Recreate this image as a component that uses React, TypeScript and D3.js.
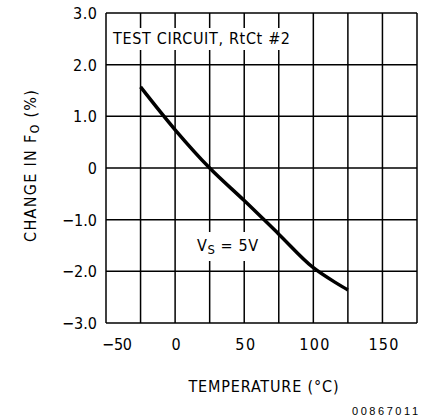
import * as d3 from 'd3';

const temps = [-25, 0, 25, 50, 75, 100, 125];
const change = [1.57, 0.74, 0.0, -0.63, -1.28, -1.93, -2.36];
const xTickLabels = [-50, 0, 50, 100, 150];
const yTickLabels = ['3.0', '2.0', '1.0', '0', '\u22121.0', '\u22122.0', '\u22123.0'];

const W = 431;
const H = 420;
const FONT = '"Liberation Sans Narrow", "DejaVu Sans Condensed", sans-serif';

// rough label widths as seen in the reference
const fitWidth = (s: string): number | undefined => {
  if (s.length < 2) return undefined;
  if (s.startsWith('\u2212')) return s.length === 4 ? 35 : 30;
  return s.length === 3 ? (s.includes('.') ? 24 : 30) : 20;
};

export default function App(): JSX.Element {
  const x = d3.scaleLinear().domain([-50, 175]).range([106, 417]);
  const y = d3.scaleLinear().domain([-3, 3]).range([323, 13]);

  const xGrid = d3.range(-50, 176, 25);
  const yGrid = d3.range(-3, 3.01, 1);

  const line = d3
    .line<number>()
    .x((_, i) => x(temps[i]))
    .y((d) => y(d))
    .curve(d3.curveCatmullRom.alpha(0.5));

  return (
    <svg
      xmlns="http://www.w3.org/2000/svg"
      width={W}
      height={H}
      style={{ position: 'absolute', left: 0, top: 0, background: '#fff' }}
      fontFamily={FONT}
    >
      <rect width={W} height={H} fill="#fff" />
      <g stroke="#000" strokeWidth={1.5}>
        {xGrid.map((t) => (
          <line key={'x' + t} x1={x(t)} x2={x(t)} y1={y(3)} y2={y(-3)} />
        ))}
        {yGrid.map((v) => (
          <line key={'y' + v} x1={x(-50)} x2={x(175)} y1={y(v)} y2={y(v)} />
        ))}
      </g>

      {/* label boxes blank out the grid behind the text */}
      <rect x={x(-50) + 1} y={28} width={190} height={22} fill="#fff" />
      <text x={113} y={44} fontSize={16} fill="#000" textLength={177} lengthAdjust="spacing">
        TEST  CIRCUIT, RtCt #2
      </text>

      <path d={line(change) ?? ''} fill="none" stroke="#000" strokeWidth={3.5} />

      <rect x={196} y={232} width={64} height={29} fill="#fff" />
      <text x={197} y={251} fontSize={16} fill="#000" textLength={61} lengthAdjust="spacing">
        V<tspan fontSize={13} dy={3}>S</tspan>
        <tspan dy={-3}> = 5V</tspan>
      </text>

      <g fontSize={16} fill="#000" textAnchor="end">
        {yTickLabels.map((l, i) => (
          <text key={l} x={97} y={y(3 - i) + 6} textLength={fitWidth(l)} lengthAdjust="spacing">
            {l}
          </text>
        ))}
      </g>
      <g fontSize={16} fill="#000" textAnchor="middle">
        {xTickLabels.map((t) => {
          const s = t < 0 ? '\u2212' + Math.abs(t) : String(t);
          return (
            <text
              key={t}
              x={t < 0 ? x(t) + 11 : x(t) + 1}
              y={350}
              textLength={fitWidth(s)}
              lengthAdjust="spacing"
            >
              {s}
            </text>
          );
        })}
      </g>

      <text
        transform={`translate(36,166) rotate(-90)`}
        textAnchor="middle"
        fontSize={16}
        fill="#000"
        textLength={152}
        lengthAdjust="spacing"
      >
        CHANGE IN F<tspan fontSize={12} dy={3}>O</tspan>
        <tspan dy={-3}>  (%)</tspan>
      </text>

      <text
        x={(x(-50) + x(175)) / 2 + 2}
        y={392}
        textAnchor="middle"
        fontSize={16}
        fill="#000"
        textLength={150}
        lengthAdjust="spacing"
      >
        TEMPERATURE (°C)
      </text>

      <text
        x={418}
        y={415}
        textAnchor="end"
        fontSize={11}
        fill="#000"
        fontFamily="Arial, sans-serif"
        textLength={66}
        lengthAdjust="spacing"
      >
        00867011
      </text>
    </svg>
  );
}
